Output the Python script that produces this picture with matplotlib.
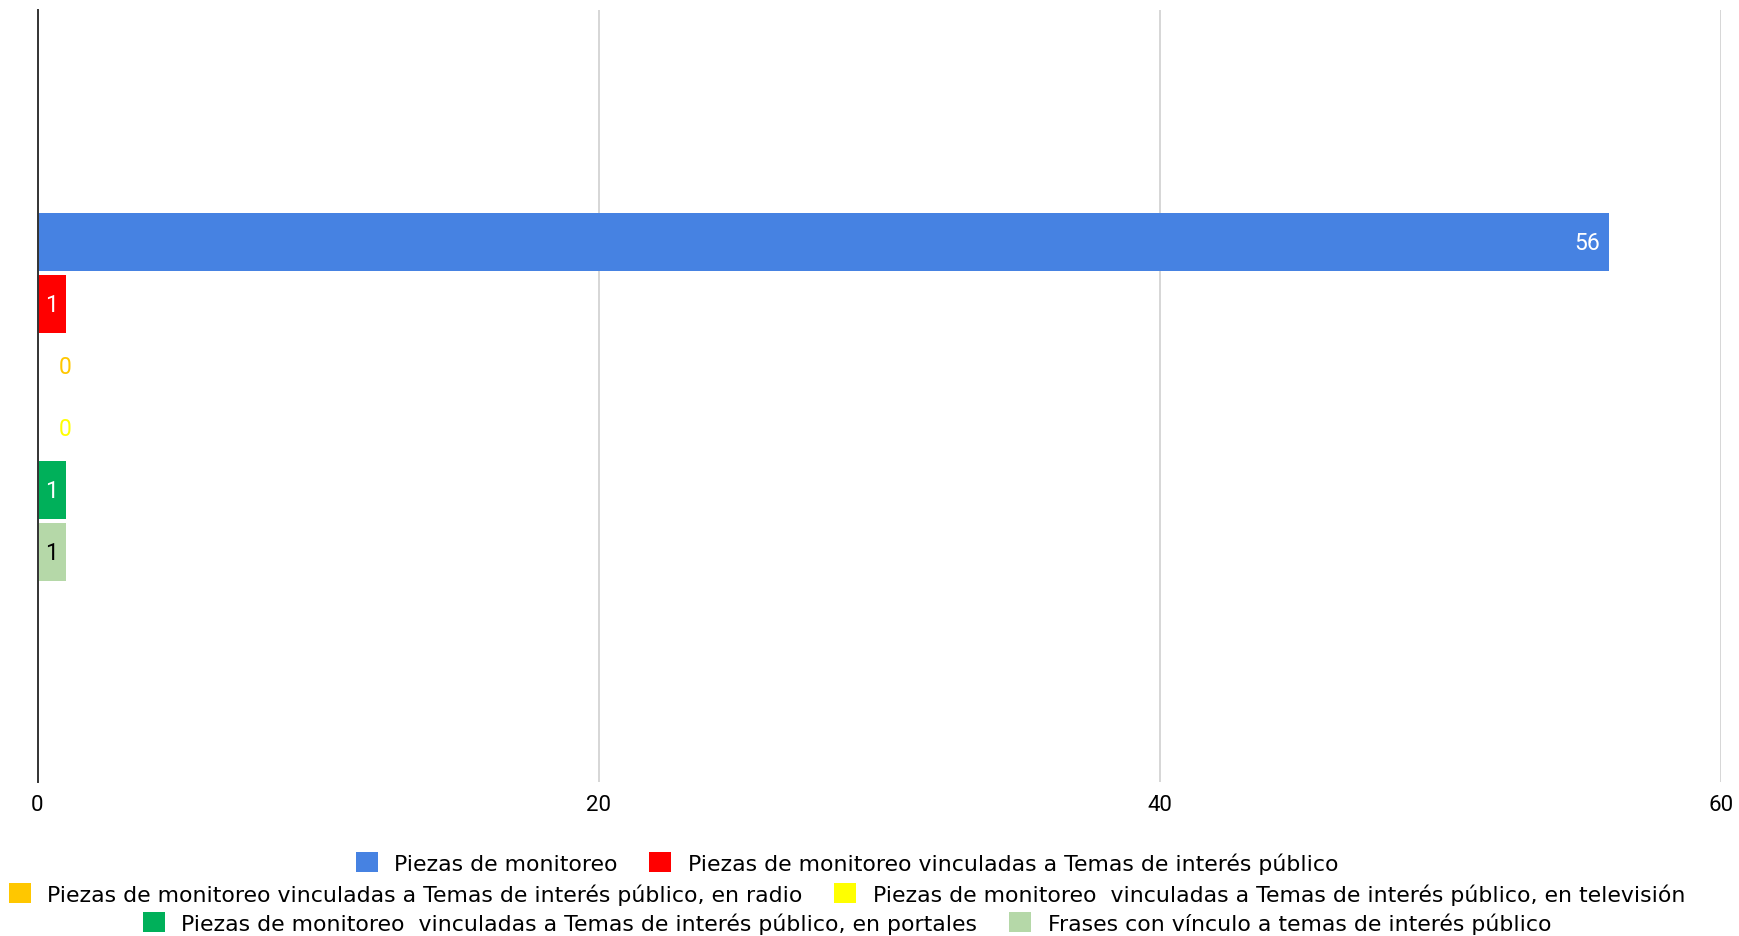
import matplotlib.pyplot as plt
from matplotlib.patches import Patch

series = [
    "Piezas de monitoreo",
    "Piezas de monitoreo vinculadas a Temas de interés público",
    "Piezas de monitoreo vinculadas a Temas de interés público, en radio",
    "Piezas de monitoreo  vinculadas a Temas de interés público, en televisión",
    "Piezas de monitoreo  vinculadas a Temas de interés público, en portales",
    "Frases con vínculo a temas de interés público",
]
values = [56, 1, 0, 0, 1, 1]
colors = ["#4682e2", "#ff0000", "#ffc700", "#ffff00", "#00b05a", "#b5d8a8"]
label_colors = ["white", "white", "#ffc700", "#ffff00", "white", "black"]
xticks = [0, 20, 40, 60]

fig = plt.figure(figsize=(17.39, 9.37), dpi=100)
ax = fig.add_axes([37.5 / 1739, 1 - 782.5 / 937, (1721 - 37.5) / 1739, (782.5 - 11) / 937])

slot = 0.0804
bar_h = 0.0752
n = len(values)
for i, (v, c) in enumerate(zip(values, colors)):
    y = (n - 1) / 2 * slot - i * slot - 0.002
    ax.barh(y, v, height=bar_h, color=c, zorder=3)
    if v == 0:
        ax.text(0.75, y, str(v), color=label_colors[i], fontsize=16.5,
                family="Roboto", ha="left", va="center", zorder=4)
    elif v > 5:
        ax.text(v - 0.3, y, str(v), color=label_colors[i], fontsize=16.5,
                family="Roboto", ha="right", va="center", zorder=4)
    else:
        ax.text(v / 2, y, str(v), color=label_colors[i], fontsize=16.5,
                family="Roboto", ha="center", va="center", zorder=4)

ax.set_xlim(0, 60)
ax.set_ylim(-0.5, 0.5)
ax.set_xticks(xticks)
ax.set_xticklabels([str(t) for t in xticks], fontsize=16, family="Roboto")
ax.set_yticks([])
ax.tick_params(axis="x", length=0, pad=9)
ax.grid(axis="x", color="#cccccc", linewidth=1.1, zorder=0)
for s in ["top", "right", "bottom"]:
    ax.spines[s].set_visible(False)
ax.spines["left"].set_color("#333333")
ax.spines["left"].set_linewidth(1.4)
ax.spines["left"].set_zorder(5)

# three centered legend rows, two entries each
rows_y = [1 - 864 / 937, 1 - 895 / 937, 1 - 924 / 937]
for r in range(3):
    idx = (2 * r, 2 * r + 1)
    handles = [Patch(facecolor=colors[k], edgecolor="none") for k in idx]
    labels = [series[k] for k in idx]
    fig.legend(handles, labels, loc="center", bbox_to_anchor=(847 / 1739, rows_y[r]),
               ncol=2, frameon=False, fontsize=15.85, handlelength=1.0,
               handleheight=1.0, handletextpad=0.75, columnspacing=1.45,
               borderpad=0, borderaxespad=0)

fig.savefig("out.png", dpi=100)
